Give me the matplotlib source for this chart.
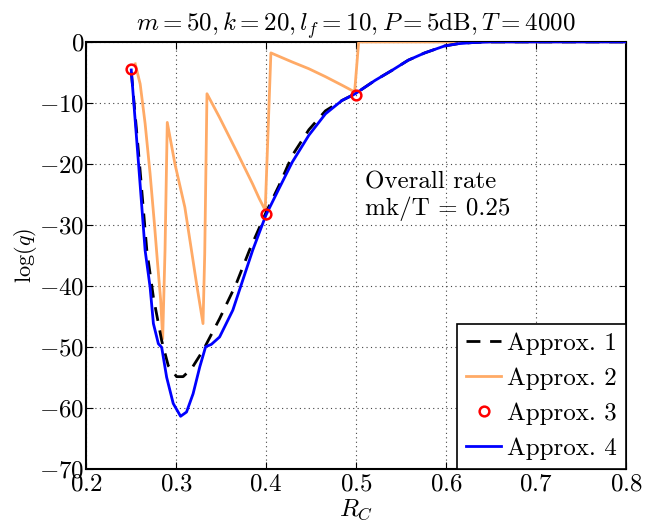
import matplotlib
matplotlib.use("Agg")
import matplotlib.pyplot as plt

plt.rcParams['font.family'] = 'cmr10'
plt.rcParams['mathtext.fontset'] = 'cm'
plt.rcParams['axes.formatter.use_mathtext'] = True

# Approx. 1 (black dashed)
rc_1 = [0.2505, 0.2596, 0.2677, 0.275, 0.2842, 0.2915, 0.3008, 0.308, 0.3173,
        0.3301, 0.3485, 0.3669, 0.3816, 0.4, 0.4147, 0.4293, 0.4477, 0.4661,
        0.4845, 0.4992, 0.5213, 0.5396, 0.558, 0.5764, 0.5985, 0.6131, 0.63,
        0.65, 0.8]
q_1 = [-5, -20, -34.2, -41.9, -49, -53.1, -54.9, -54.9, -53.6,
       -50.6, -45.4, -39.7, -34.2, -28, -23.5, -18.6, -14.4, -11.3,
       -9.6, -8.5, -6.3, -4.7, -3, -1.8, -0.66, -0.3, -0.1,
       0, 0]

# Approx. 2 (orange)
rc_2 = [0.2548, 0.2603, 0.2658, 0.2713, 0.2761, 0.2794, 0.2831, 0.2853,
        0.2879, 0.2904, 0.2989, 0.3099, 0.3173, 0.3235, 0.3301, 0.332, 0.3345,
        0.3485, 0.3669, 0.3852, 0.3926, 0.3992, 0.4055, 0.4293, 0.4477,
        0.4661, 0.4845, 0.4985, 0.503, 0.8]
q_2 = [-3.6, -6.9, -13.4, -21.6, -29.8, -35.9, -42.4, -48.7,
       -34.2, -13.2, -20, -27.1, -34.2, -40.2, -46.2, -34.8, -8.5,
       -12.4, -17.8, -23.3, -25.7, -27.6, -1.8, -3.3, -4.4,
       -5.7, -7.1, -8.2, 0, 0]

# Approx. 3 (red circles)
rc_3 = [0.25, 0.4, 0.5]
q_3 = [-4.5, -28.3, -8.7]

# Approx. 4 (blue)
rc_4 = [0.2504, 0.2585, 0.2658, 0.2713, 0.275, 0.2805, 0.2842, 0.2897,
        0.297, 0.3052, 0.3118, 0.3191, 0.3265, 0.333, 0.3394, 0.3485,
        0.3632, 0.3742, 0.3852, 0.4, 0.4147, 0.4293, 0.4477, 0.4661,
        0.4845, 0.4992, 0.5213, 0.5396, 0.558, 0.5764, 0.5985, 0.6131,
        0.63, 0.65, 0.8]
q_4 = [-4.6, -20, -34.2, -40.2, -46.2, -49.5, -50.1, -55,
       -59.3, -61.4, -60.7, -57.7, -53.3, -50, -49.6, -48.4,
       -44, -39.1, -34.2, -28.4, -24, -19.7, -15.3, -11.8,
       -9.6, -8.5, -6.3, -4.7, -3, -1.8, -0.66, -0.3,
       -0.1, 0, 0]

fig = plt.figure(figsize=(6.71, 5.24), dpi=100)
ax = fig.add_axes([0.128, 0.1055, 0.805, 0.8145])

ax.plot(rc_1, q_1, 'k--', lw=2, dashes=(5, 3.5), label='Approx. 1', zorder=4)
ax.plot(rc_2, q_2, color='#FFAA66', lw=2, label='Approx. 2', zorder=3)
ax.plot(rc_3, q_3, 'o', mfc='none', mec='r', mew=1.8, ms=7, label='Approx. 3', zorder=6)
ax.plot(rc_4, q_4, color='#0000FF', lw=2, label='Approx. 4', zorder=5)

ax.set_xlim(0.2, 0.8)
ax.set_ylim(-70, 0)
ax.set_xticks([0.2, 0.3, 0.4, 0.5, 0.6, 0.7, 0.8])
ax.set_yticks(range(-70, 1, 10))
ax.grid(True, linestyle=(0, (1, 3)), color='#444444', lw=0.8)
ax.tick_params(direction='in', top=True, right=True, labelsize=18, length=5, pad=1)
ax.tick_params(axis='x', pad=3)
for s in ax.spines.values():
    s.set_linewidth(1.5)

ax.set_xlabel('$R_C$', fontsize=18, labelpad=2)
ax.set_ylabel(r'$\log(q)$', fontsize=16, labelpad=0)
ax.set_title(r'$m = 50, k = 20, l_f = 10, P = 5\mathrm{dB}, T = 4000$', fontsize=18, pad=8)

ax.text(0.51, -21.3, 'Overall rate\nmk/T = 0.25', fontsize=18, va='top', ha='left',
        linespacing=1.15)

leg = ax.legend(loc='lower right', borderaxespad=0, fancybox=False, framealpha=1,
                edgecolor='k', fontsize=18, handlelength=1.4, handletextpad=0.25,
                labelspacing=0.5, borderpad=0.35)
leg.get_frame().set_linewidth(1.2)

plt.savefig('out.png', dpi=100)
plt.close()
